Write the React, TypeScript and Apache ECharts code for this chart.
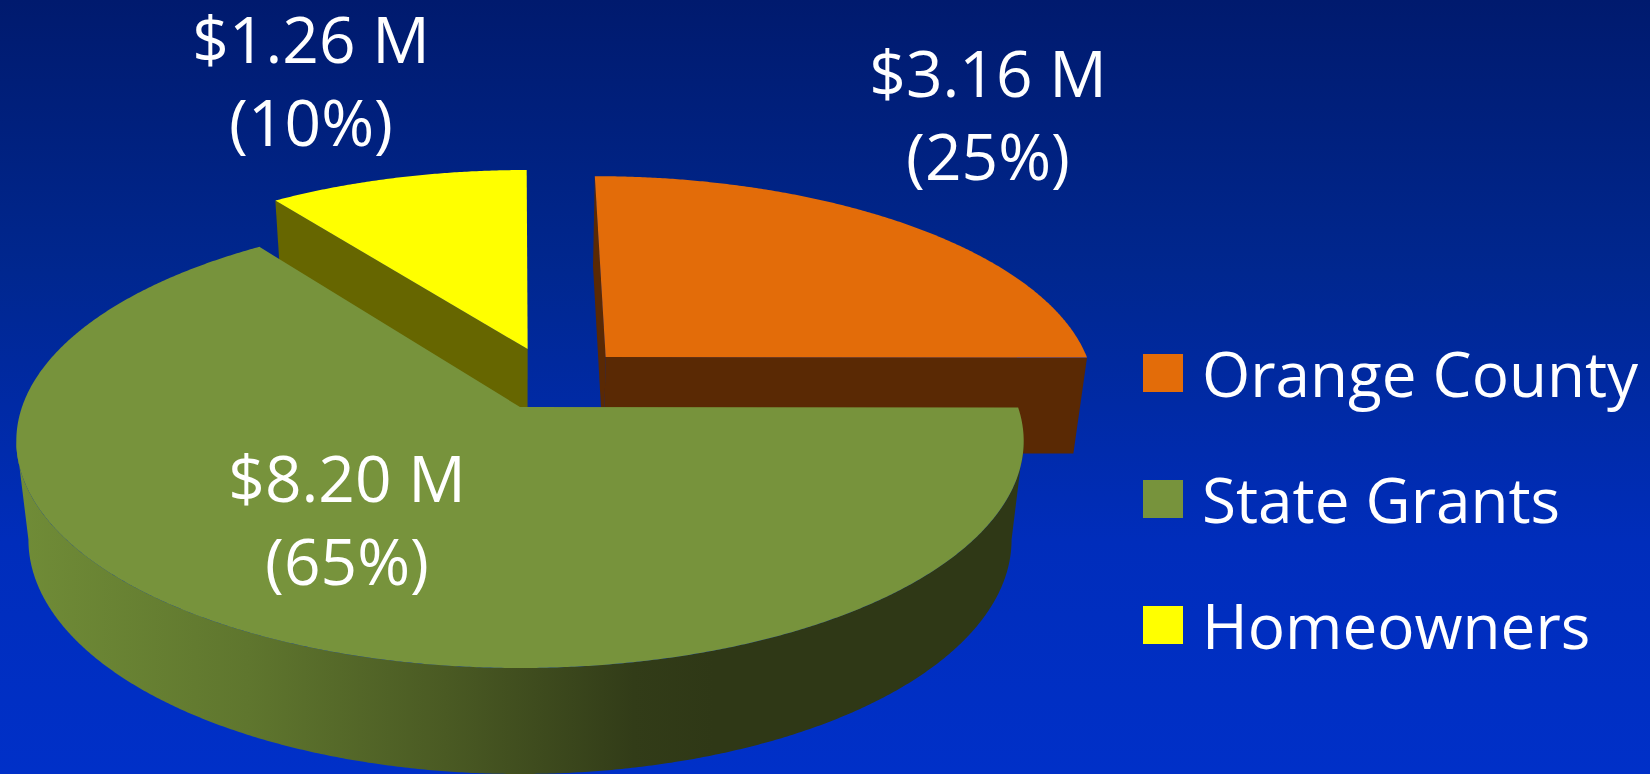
import React, { useEffect, useRef } from "react";
import * as echarts from "echarts";

// Data, in the reference's clockwise order from 12 o'clock
const sliceNames = ["Orange County", "State Grants", "Homeowners"];
const sliceValues = [3.16, 8.2, 1.26];
const sharePercents = [25, 65, 10];

// Styles per slice
const topColors = ["#E36C09", "#77933C", "#FFFF00"];
const sideColors = ["#5A2904", "#2F3816", "#666600"];
const explodeX = [0.178, 0, 0.016];
const explodeY = [0.233, 0, 0.272];
const labelX = [988, 347, 311];
const labelY = [75, 480, 41];
const drawOrder = [0, 2, 1]; // painter's order: back slices first

// Perspective of the pie (screen pixels)
const PERSPECTIVE = 0.15;
const TOP_PLANE = { cx: 520, cy: 407, f: 498, g: 221.85 };
const BOTTOM_PLANE = { cx: 520, cy: 504.6, f: 486, g: 229 };
const FONT = "Open Sans";

type Plane = typeof TOP_PLANE;
const project = (p: Plane, X: number, Y: number): number[] => {
  const w = 1 + PERSPECTIVE * Y;
  return [p.cx + (p.f * X) / w, p.cy - (p.g * Y) / w];
};

const total = sliceValues.reduce((a, b) => a + b, 0);
const cumulative = sliceValues.map((_, i) =>
  sliceValues.slice(0, i).reduce((a, b) => a + b, 0)
);

const arcPoints = (p: Plane, i: number, a0: number, a1: number): number[][] => {
  const n = Math.max(2, Math.ceil(Math.abs(a1 - a0) / 0.006));
  const pts: number[][] = [];
  for (let s = 0; s <= n; s++) {
    const a = a0 + ((a1 - a0) * s) / n;
    pts.push(project(p, explodeX[i] + Math.sin(a), explodeY[i] + Math.cos(a)));
  }
  return pts;
};

const signedArea = (pts: number[][]): number => {
  let s = 0;
  pts.forEach((q, j) => {
    const r = pts[(j + 1) % pts.length];
    s += q[0] * r[1] - r[0] * q[1];
  });
  return s / 2;
};

const poly = (points: number[][], fill: any) => ({
  type: "polygon",
  shape: { points },
  style: { fill, stroke: null },
});

const sideGradient = new echarts.graphic.LinearGradient(
  20,
  0,
  1010,
  0,
  [
    { offset: 0, color: "#708C37" },
    { offset: 0.23, color: "#5F762E" },
    { offset: 0.43, color: "#4A5A23" },
    { offset: 0.62, color: "#323C18" },
    { offset: 0.7, color: "#2F3816" },
    { offset: 1, color: "#2F3816" },
  ],
  true
);

const labelLine = (text: string, x: number, y: number) => ({
  type: "text",
  z2: 10,
  style: {
    x,
    y,
    text,
    fill: "#FFFFFF",
    font: `64px "${FONT}"`,
    lineHeight: 64,
    align: "center",
    verticalAlign: "middle",
  },
});

const makeRenderItem = (i: number) => () => {
  const a0 = (cumulative[i] / total) * Math.PI * 2;
  const a1 = ((cumulative[i] + sliceValues[i]) / total) * Math.PI * 2;
  const children: any[] = [];

  // Cut faces that turn towards the viewer
  const cut = (a: number, sign: number) => {
    const X = explodeX[i] + Math.sin(a);
    const Y = explodeY[i] + Math.cos(a);
    const quad = [
      project(TOP_PLANE, explodeX[i], explodeY[i]),
      project(TOP_PLANE, X, Y),
      project(BOTTOM_PLANE, X, Y),
      project(BOTTOM_PLANE, explodeX[i], explodeY[i]),
    ];
    if (signedArea(quad) * sign > 0) children.push(poly(quad, sideColors[i]));
  };
  cut(a0, -1);
  cut(a1, 1);

  // Outer wall, only the part of the rim that faces the viewer
  const front0 = Math.PI / 2 + Math.asin(PERSPECTIVE);
  const front1 = (Math.PI * 3) / 2 - Math.asin(PERSPECTIVE);
  const w0 = Math.max(a0, front0);
  const w1 = Math.min(a1, front1);
  if (w1 > w0) {
    const wall = arcPoints(TOP_PLANE, i, w0, w1).concat(
      arcPoints(BOTTOM_PLANE, i, w0, w1).reverse()
    );
    children.push(poly(wall, sliceNames[i] === "State Grants" ? sideGradient : sideColors[i]));
  }

  // Top face
  const top = [project(TOP_PLANE, explodeX[i], explodeY[i])].concat(
    arcPoints(TOP_PLANE, i, a0, a1)
  );
  children.push(poly(top, topColors[i]));

  // Value label
  children.push(
    labelLine(`$${sliceValues[i].toFixed(2)} M`, labelX[i], labelY[i] - 2.5),
    labelLine(`(${sharePercents[i]}%)`, labelX[i], labelY[i] + 80.5)
  );
  return { type: "group", children };
};

export default function App() {
  const ref = useRef<HTMLDivElement>(null);
  useEffect(() => {
    const chart = echarts.init(ref.current!, undefined, { renderer: "svg" });
    chart.setOption({
      animation: false,
      backgroundColor: new echarts.graphic.LinearGradient(0, 0, 0, 1, [
        { offset: 0, color: "#001A6E" },
        { offset: 0.35, color: "#00278F" },
        { offset: 0.7, color: "#002DBB" },
        { offset: 1, color: "#0030C8" },
      ]),
      legend: {
        left: 1143,
        top: 342,
        padding: 0,
        orient: "vertical",
        icon: "rect",
        itemWidth: 40,
        itemHeight: 38,
        itemGap: 64,
        selectedMode: false,
        data: sliceNames,
        textStyle: {
          color: "#FFFFFF",
          fontFamily: FONT,
          fontSize: 62,
          lineHeight: 38,
          padding: [0, 0, 8, 14],
        },
      },
      series: drawOrder.map((i) => ({
        type: "custom",
        name: sliceNames[i],
        coordinateSystem: "none",
        silent: true,
        itemStyle: { color: topColors[i] },
        data: [sliceValues[i]],
        renderItem: makeRenderItem(i),
      })),
    });
    return () => chart.dispose();
  }, []);
  return (
    <div
      ref={ref}
      style={{ position: "fixed", left: 0, top: 0, width: 1650, height: 774 }}
    />
  );
}
